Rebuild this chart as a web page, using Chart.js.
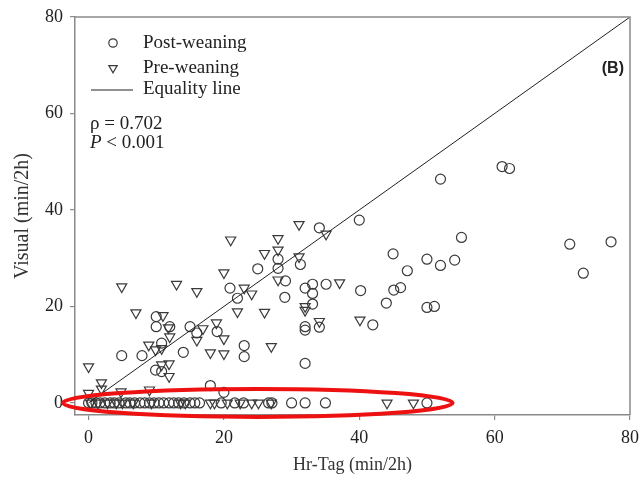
<!DOCTYPE html>
<html>
<head>
<meta charset="utf-8">
<script src="https://cdn.jsdelivr.net/npm/chart.js@4.4.1/dist/chart.umd.min.js"></script>
<style>
html,body{margin:0;padding:0;background:#fff;}
#wrap{width:642px;height:477px;}
</style>
</head>
<body>
<div id="wrap"><canvas id="c" width="642" height="477"></canvas></div>
<script>
// ---- data ----
const postX = [61.1,62.2,52.0,40.0,55.1,71.1,77.2,73.1,45.0,50.0,52.0,54.1,47.1,45.1,46.1,40.2,44.0,50.0,51.1,42.0,
  34.1,31.3,32.0,33.1,33.1,35.1,33.1,34.1,32.0,32.0,32.0,28.0,28.0,25.0,29.1,20.9,22.0,29.0,23.0,23.0,
  4.9,7.9,10.0,10.0,12.0,10.8,14.0,15.0,16.0,19.0,9.9,10.8,18.0,20.0,
  0,0.5,1.1,1.7,2.4,3.2,3.8,4.5,5.5,6.1,6.8,7.6,8.3,9.0,9.7,10.4,11.1,11.9,12.6,13.3,14.1,15.0,15.7,16.4,19.6,21.6,22.9,26.6,27.1,30.0,32.0,35.0,50.0];
const postY = [49.0,48.6,46.4,37.9,34.3,32.9,33.4,26.9,30.9,29.8,28.5,29.6,27.4,23.4,23.9,23.3,20.7,19.8,20.0,16.2,
  36.3,28.7,23.8,24.6,22.7,24.6,20.5,15.7,15.8,15.1,8.2,29.8,27.9,27.8,25.3,23.8,21.7,21.9,11.9,9.6,
  9.8,9.8,17.9,15.8,15.8,12.4,10.5,15.8,14.5,14.8,6.8,6.5,3.6,2.2,
  0,0,0,0,0,0,0,0,0,0,0,0,0,0,0,0,0,0,0,0,0,0,0,0,0,0,0,0,0,0,0,0,0];
const preX = [40.1,31.1,35.1,31.1,37.1,32.0,32.0,34.1,
  21.0,28.0,26.0,28.0,20.0,28.0,23.0,24.1,22.0,26.0,27.0,
  4.9,13.0,16.0,7.0,11.0,11.8,16.9,18.9,12.0,16.0,20.0,8.9,9.9,10.8,18.0,20.0,10.8,11.9,11.9,0,1.9,1.9,0,4.8,9.0,
  0.3,1.4,2.8,4.1,5.0,6.6,9.3,13.6,14.3,18.0,18.6,20.5,22.4,24.1,25.1,27.0,44.1,48.0];
const preY = [17.2,37.0,35.0,30.3,24.9,20.0,19.2,16.9,
  33.8,34.1,31.0,31.7,27.0,25.5,23.8,22.6,18.9,18.8,11.7,
  24.1,24.6,23.1,18.7,18.1,15.6,15.4,16.6,13.7,13.0,13.3,12.0,11.0,11.3,10.4,10.2,7.9,8.1,5.5,7.5,4.2,2.9,2.0,2.3,2.7,
  0,0,0,0,0,0,0,0,0,0,0,0,0,0,0,0,0,0];
const equalityX = [0, 80];
const tickValues = [0, 20, 40, 60, 80];
const seriesNames = ['Post-weaning', 'Pre-weaning', 'Equality line'];
const xTitle = 'Hr-Tag (min/2h)';
const yTitle = 'Visual (min/2h)';
const statText = ['\u03C1 = 0.702', '< 0.001'];
const panelLabel = '(B)';
const highlight = {cx: 25, cy: 0, rx: 28.8, ry: 2.9}; // in data units

const toPts = (xs, ys) => xs.map((x, i) => ({x: x, y: ys[i]}));
const SERIF = '"Liberation Serif", "Times New Roman", serif';
const MARK = '#3a3a3a';

const overlay = {
  id: 'overlay',
  afterDraw(chart) {
    const {ctx, chartArea: a, scales} = chart;
    ctx.save();
    // box frame top/right
    ctx.strokeStyle = '#8a8a8a';
    ctx.lineWidth = 1.5;
    ctx.beginPath();
    ctx.moveTo(a.left, a.top); ctx.lineTo(a.right, a.top); ctx.lineTo(a.right, a.bottom);
    ctx.stroke();

    // legend
    const lx = a.left + 38, tx = a.left + 68;
    ctx.fillStyle = '#222';
    ctx.font = '19px ' + SERIF;
    ctx.textBaseline = 'middle';
    ctx.textAlign = 'left';
    ctx.strokeStyle = MARK; ctx.lineWidth = 1.2;
    ctx.beginPath(); ctx.arc(lx, a.top + 26, 4.2, 0, Math.PI * 2); ctx.stroke();
    ctx.fillText(seriesNames[0], tx, a.top + 26);
    const ty = a.top + 51, r = 4.8;
    ctx.beginPath();
    ctx.moveTo(lx - r * 0.866, ty - r * 0.5); ctx.lineTo(lx + r * 0.866, ty - r * 0.5); ctx.lineTo(lx, ty + r);
    ctx.closePath(); ctx.stroke();
    ctx.fillText(seriesNames[1], tx, ty);
    ctx.strokeStyle = '#222'; ctx.lineWidth = 1;
    ctx.beginPath(); ctx.moveTo(a.left + 16, a.top + 73); ctx.lineTo(a.left + 58, a.top + 73); ctx.stroke();
    ctx.fillText(seriesNames[2], tx, a.top + 72);

    // stats
    ctx.fillText(statText[0], a.left + 15, a.top + 107);
    ctx.font = 'italic 19px ' + SERIF;
    ctx.fillText('P', a.left + 15, a.top + 126);
    const pw = ctx.measureText('P ').width;
    ctx.font = '19px ' + SERIF;
    ctx.fillText(statText[1], a.left + 15 + pw, a.top + 126);

    // panel label
    ctx.font = 'bold 16px "Liberation Sans", Arial, sans-serif';
    ctx.textAlign = 'right';
    ctx.fillText(panelLabel, a.right - 6, a.top + 52);

    // red highlight ellipse
    const x = scales.x, y = scales.y;
    const cx = x.getPixelForValue(highlight.cx), cy = y.getPixelForValue(highlight.cy);
    const rx = x.getPixelForValue(highlight.cx + highlight.rx) - cx;
    const ry = cy - y.getPixelForValue(highlight.cy + highlight.ry);
    ctx.strokeStyle = '#ee1111';
    ctx.lineWidth = 4;
    ctx.beginPath(); ctx.ellipse(cx, cy, rx, ry, 0, 0, Math.PI * 2); ctx.stroke();
    ctx.restore();
  }
};

const axisCommon = {
  type: 'linear',
  grid: {display: true, drawOnChartArea: false, drawTicks: true, tickLength: 5, color: '#8a8a8a', lineWidth: 1.2},
  border: {display: true, color: '#8a8a8a', width: 1.5},
  afterBuildTicks: s => { s.ticks = tickValues.map(v => ({value: v})); }
};

new Chart(document.getElementById('c'), {
  type: 'scatter',
  data: {
    datasets: [
      {label: seriesNames[0], data: toPts(postX, postY), pointStyle: 'circle', pointRadius: 5,
       borderColor: MARK, backgroundColor: 'rgba(0,0,0,0)', borderWidth: 1.2, order: 2},
      {label: seriesNames[1], data: toPts(preX, preY), pointStyle: 'triangle', rotation: 180, pointRadius: 5.8,
       borderColor: MARK, backgroundColor: 'rgba(0,0,0,0)', borderWidth: 1.2, order: 3},
      {type: 'line', label: seriesNames[2], data: toPts(equalityX, equalityX), borderColor: '#222',
       borderWidth: 1, pointRadius: 0, fill: false, order: 1}
    ]
  },
  options: {
    responsive: false,
    animation: false,
    events: [],
    layout: {padding: {left: 0, right: 12, top: 17, bottom: 0}},
    plugins: {legend: {display: false}, tooltip: {enabled: false}},
    scales: {
      x: Object.assign({}, axisCommon, {
        min: -2, max: 80,
        afterFit: s => { s.height = 62; s.paddingRight = 8; s.paddingLeft = 0; },
        ticks: {font: {family: SERIF, size: 18}, color: '#222', padding: 7, maxRotation: 0},
        title: {display: true, text: xTitle, font: {family: SERIF, size: 18}, color: '#333', padding: {top: 0, bottom: 1}}
      }),
      y: Object.assign({}, axisCommon, {
        min: -2.5, max: 80,
        afterFit: s => { s.width = 75; s.paddingTop = 0; s.paddingBottom = 0; },
        ticks: {font: {family: SERIF, size: 18}, color: '#222', padding: 7},
        title: {display: true, text: yTitle, font: {family: SERIF, size: 20}, color: '#333', padding: {top: 11, bottom: 0}}
      })
    }
  },
  plugins: [overlay]
});
</script>
</body>
</html>
